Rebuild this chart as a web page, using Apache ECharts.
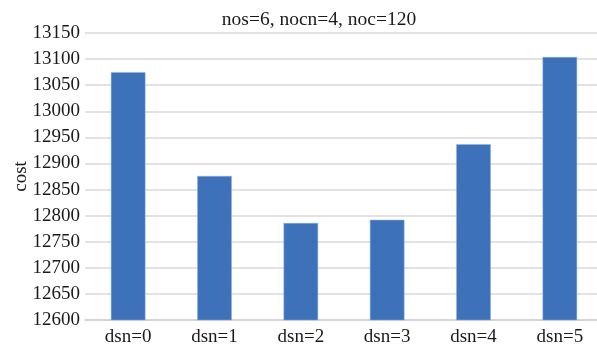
<!DOCTYPE html>
<html>
<head>
<meta charset="utf-8">
<script src="https://cdn.jsdelivr.net/npm/echarts@6/dist/echarts.min.js"></script>
<style>
  html, body { margin: 0; padding: 0; background: #ffffff; }
  #chart { width: 597px; height: 345px; }
</style>
</head>
<body>
<div id="chart"></div>
<script>
// Cost for each dsn setting
const categories = ['dsn=0', 'dsn=1', 'dsn=2', 'dsn=3', 'dsn=4', 'dsn=5'];
const costValues = [13075, 12876, 12786, 12792, 12937, 13104];
const chartTitle = 'nos=6, nocn=4, noc=120';
const yAxisName = 'cost';

const serif = '"Liberation Serif", "DejaVu Serif", serif';

const chart = echarts.init(document.getElementById('chart'), null, { renderer: 'canvas' });
chart.setOption({
  animation: false,
  backgroundColor: '#ffffff',
  title: {
    text: chartTitle,
    left: 314,
    top: 5,
    textAlign: 'center',
    textStyle: { fontFamily: serif, fontSize: 19.5, fontWeight: 'normal', color: '#1a1a1a' }
  },
  grid: { left: 85, right: -6, top: 33, bottom: 25, containLabel: false, outerBoundsMode: 'none' },
  xAxis: {
    type: 'category',
    data: categories,
    axisLine: { show: true, lineStyle: { color: '#d0d0d0', width: 1.5 } },
    axisTick: { show: false },
    axisLabel: { fontFamily: serif, fontSize: 19, color: '#1a1a1a', margin: 8 }
  },
  yAxis: {
    type: 'value',
    min: 12600,
    max: 13150,
    interval: 50,
    name: yAxisName,
    nameLocation: 'middle',
    nameGap: 54,
    nameMoveOverlap: false,
    nameTextStyle: { fontFamily: serif, fontSize: 19, color: '#1a1a1a' },
    axisLine: { show: false },
    axisTick: { show: false },
    axisLabel: {
      fontFamily: serif, fontSize: 19, color: '#1a1a1a', margin: 5,
      formatter: (v) => String(v)
    },
    splitLine: { lineStyle: { color: '#d9d9d9', width: 1.5 } }
  },
  series: [{
    type: 'bar',
    data: costValues,
    barWidth: '40%',
    itemStyle: { color: '#3d72bb', borderColor: '#8fb0dc', borderWidth: 0.5 }
  }]
});
</script>
</body>
</html>
